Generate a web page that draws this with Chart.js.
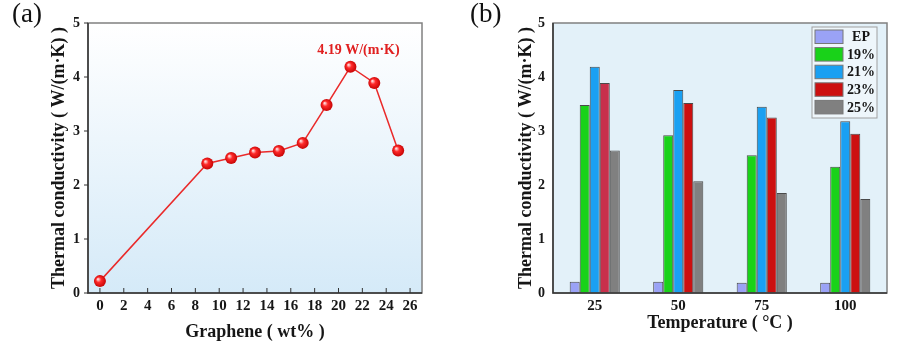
<!DOCTYPE html>
<html>
<head>
<meta charset="utf-8">
<script src="https://cdn.jsdelivr.net/npm/chart.js@4.4.1/dist/chart.umd.min.js"></script>
<style>
  body { margin: 0; background: #fff; }
  .wrap { position: absolute; top: 0; width: 454px; height: 353px; }
  .tag { position: absolute; top: -2px; font: 27px "Liberation Serif", serif; color: #111; }
</style>
</head>
<body>
<div class="wrap" style="left:0"><canvas id="chartA" width="454" height="353"></canvas></div>
<div class="wrap" style="left:454px"><canvas id="chartB" width="454" height="353"></canvas></div>
<div class="tag" style="left:12px">(a)</div>
<div class="tag" style="left:470px">(b)</div>
<script>
// panel (a) data
const grapheneWt = [0, 9, 11, 13, 15, 17, 19, 21, 23, 25];
const conductivity = [0.22, 2.40, 2.50, 2.60, 2.63, 2.78, 3.48, 4.19, 3.89, 2.64];
const xTicksA = [0, 2, 4, 6, 8, 10, 12, 14, 16, 18, 20, 22, 24, 26];
const yTicks = [0, 1, 2, 3, 4, 5];
const peakLabel = "4.19 W/(m·K)";

// panel (b) data
const temps = ["25", "50", "75", "100"];
const seriesNames = ["EP", "19%", "21%", "23%", "25%"];
const epVals = [0.21, 0.21, 0.19, 0.19];
const wt19 = [3.48, 2.92, 2.55, 2.34];
const wt21 = [4.19, 3.76, 3.45, 3.18];
const wt23 = [3.89, 3.52, 3.25, 2.95];
const wt25 = [2.64, 2.07, 1.85, 1.74];

const serif = "'Liberation Serif', 'Times New Roman', serif";
const xTickFont = { family: serif, size: 15, weight: "bold" };
const yTickFont = { family: serif, size: 14, weight: "bold" };
const titleFont = { family: serif, size: 18, weight: "bold" };
const ink = "#161616";

const framePlugin = {
  id: "frame",
  beforeDraw(chart, args, opts) {
    const { ctx, chartArea: a } = chart;
    ctx.save();
    if (opts.gradient) {
      const g = ctx.createLinearGradient(0, a.top, 0, a.bottom);
      g.addColorStop(0, "#ffffff");
      g.addColorStop(1, "#d5eaf8");
      ctx.fillStyle = g;
    } else {
      ctx.fillStyle = "#e3f1f9";
    }
    ctx.fillRect(a.left, a.top, a.right - a.left, a.bottom - a.top);
    ctx.restore();
  },
  afterDraw(chart, args, opts) {
    const { ctx, chartArea: a } = chart;
    ctx.save();
    ctx.strokeStyle = "#808080";
    ctx.lineWidth = 1.5;
    ctx.strokeRect(a.left, a.top, a.right - a.left, a.bottom - a.top);
    ctx.strokeStyle = "#333";
    ctx.beginPath();
    ctx.moveTo(a.left, a.top);
    ctx.lineTo(a.left, a.bottom);
    ctx.lineTo(a.right, a.bottom);
    ctx.stroke();
    if (opts.ticks) {
      ctx.lineWidth = 1;
      const xs = chart.scales.x, ys = chart.scales.y;
      ctx.beginPath();
      xs.ticks.forEach(t => {
        const px = xs.getPixelForValue(t.value);
        ctx.moveTo(px, a.bottom);
        ctx.lineTo(px, a.bottom - 5);
      });
      ys.ticks.forEach(t => {
        const py = ys.getPixelForValue(t.value);
        ctx.moveTo(a.left, py);
        ctx.lineTo(a.left - 4, py);
      });
      ctx.stroke();
    }
    ctx.restore();
  }
};

const peakPlugin = {
  id: "peak",
  afterDatasetsDraw(chart) {
    const { ctx } = chart;
    const i = conductivity.indexOf(Math.max(...conductivity));
    const px = chart.scales.x.getPixelForValue(grapheneWt[i]);
    const py = chart.scales.y.getPixelForValue(conductivity[i]);
    ctx.save();
    ctx.fillStyle = "#e02020";
    ctx.font = "bold 14px " + serif;
    ctx.textAlign = "center";
    ctx.textBaseline = "middle";
    ctx.fillText(peakLabel, px + 8, py - 16);
    ctx.restore();
  }
};

const boxLegend = {
  id: "boxLegend",
  afterDraw(chart) {
    const { ctx, chartArea: a } = chart;
    const sets = chart.data.datasets;
    const bx = a.right - 75, by = a.top + 4, bw = 65, rowH = 17.6;
    ctx.save();
    ctx.fillStyle = "#eef6fb";
    ctx.fillRect(bx, by, bw, rowH * sets.length + 3);
    ctx.strokeStyle = "#a0a0a0";
    ctx.lineWidth = 1;
    ctx.strokeRect(bx, by, bw, rowH * sets.length + 3);
    ctx.font = "bold 14px " + serif;
    ctx.textBaseline = "middle";
    ctx.textAlign = "center";
    sets.forEach((ds, k) => {
      const y = by + 3 + k * rowH;
      ctx.fillStyle = Array.isArray(ds.backgroundColor) ? ds.backgroundColor[1] : ds.backgroundColor;
      ctx.fillRect(bx + 3, y, 28, 13.5);
      ctx.strokeStyle = "#777";
      ctx.strokeRect(bx + 3, y, 28, 13.5);
      ctx.fillStyle = ink;
      ctx.fillText(ds.label, bx + 49, y + 7.5);
    });
    ctx.restore();
  }
};

function sphere(c) {
  if (c.type !== "data" || !c.chart.chartArea) return "#e51b1b";
  const x = c.chart.scales.x.getPixelForValue(c.parsed.x);
  const y = c.chart.scales.y.getPixelForValue(c.parsed.y);
  const g = c.chart.ctx.createRadialGradient(x - 2, y - 2, 0.5, x, y, 6.5);
  g.addColorStop(0, "#ffd6d6");
  g.addColorStop(0.35, "#ff2a2a");
  g.addColorStop(1, "#c00000");
  return g;
}

new Chart(document.getElementById("chartA"), {
  type: "line",
  data: {
    datasets: [{
      data: grapheneWt.map((x, i) => ({ x: x, y: conductivity[i] })),
      borderColor: "#ea2a2a",
      borderWidth: 1.5,
      pointRadius: 6,
      pointBorderWidth: 0,
      pointBackgroundColor: sphere,
      tension: 0
    }]
  },
  options: {
    responsive: false,
    animation: false,
    layout: { padding: { left: 0, top: 23, right: 32, bottom: 0 } },
    plugins: { legend: { display: false }, tooltip: { enabled: false }, frame: { gradient: true, ticks: true } },
    scales: {
      x: {
        type: "linear", min: -1, max: 27,
        afterBuildTicks: s => { s.ticks = xTicksA.map(v => ({ value: v })); },
        afterFit: s => { s.height = 60; },
        grid: { display: false, drawTicks: false },
        border: { display: false },
        ticks: { font: xTickFont, color: ink, padding: 4, maxRotation: 0, autoSkip: false },
        title: { display: true, text: "Graphene ( wt% )", font: titleFont, color: ink, padding: { top: 0, bottom: 10 } }
      },
      y: {
        min: 0, max: 5,
        afterBuildTicks: s => { s.ticks = yTicks.map(v => ({ value: v })); },
        afterFit: s => { s.width = 88; },
        grid: { display: false, drawTicks: false },
        border: { display: false },
        ticks: { font: yTickFont, color: ink, padding: 8 },
        title: { display: true, text: "Thermal conductivity ( W/(m·K) )", font: titleFont, color: ink, padding: { top: 49, bottom: 0 } }
      }
    }
  },
  plugins: [framePlugin, peakPlugin]
});

const barColors = ["#9aa2f6", "#19d219", "#1aa0f2", "#cc1010", "#808080"];
const seriesVals = [epVals, wt19, wt21, wt23, wt25];

new Chart(document.getElementById("chartB"), {
  type: "bar",
  data: {
    labels: temps,
    datasets: seriesNames.map((name, k) => ({
      label: name,
      data: seriesVals[k],
      backgroundColor: k === 3 ? ["#c8304c", "#cc1010", "#cc1010", "#cc1010"] : barColors[k],
      borderColor: "#4a4a4a",
      borderWidth: 1,
      barPercentage: 1,
      categoryPercentage: 0.6
    }))
  },
  options: {
    responsive: false,
    animation: false,
    layout: { padding: { left: 0, top: 23, right: 21, bottom: 0 } },
    plugins: { legend: { display: false }, tooltip: { enabled: false }, frame: { gradient: false, ticks: false } },
    scales: {
      x: {
        afterFit: s => { s.height = 60; },
        grid: { display: false, drawTicks: false },
        border: { display: false },
        ticks: { font: xTickFont, color: ink, padding: 4 },
        title: { display: true, text: "Temperature ( °C )", font: titleFont, color: ink, padding: { top: 0, bottom: 19 } }
      },
      y: {
        min: 0, max: 5,
        afterBuildTicks: s => { s.ticks = yTicks.map(v => ({ value: v })); },
        afterFit: s => { s.width = 99; },
        grid: { display: false, drawTicks: false },
        border: { display: false },
        ticks: { font: yTickFont, color: ink, padding: 8 },
        title: { display: true, text: "Thermal conductivity ( W/(m·K) )", font: titleFont, color: ink, padding: { top: 62, bottom: 0 } }
      }
    }
  },
  plugins: [framePlugin, boxLegend]
});
</script>
</body>
</html>
